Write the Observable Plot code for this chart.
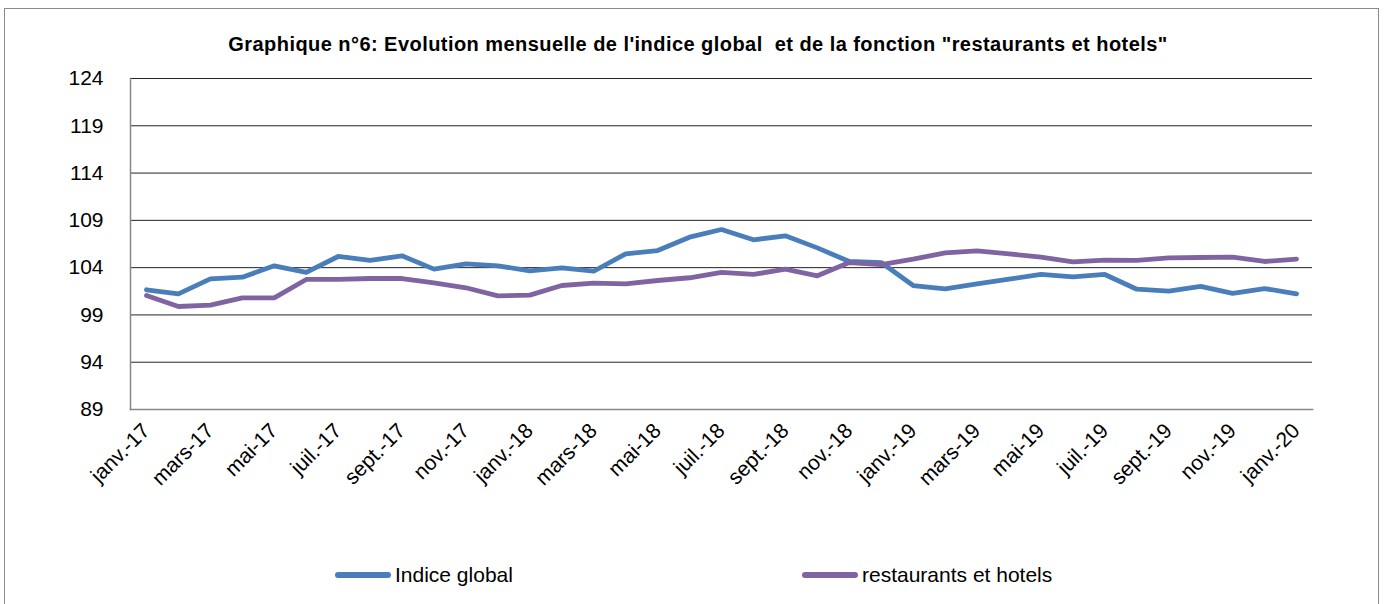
<!DOCTYPE html>
<html>
<head>
<meta charset="utf-8">
<script src="https://cdn.jsdelivr.net/npm/d3@7"></script>
<script src="https://cdn.jsdelivr.net/npm/@observablehq/plot@0.6"></script>
<style>
  html, body { margin: 0; padding: 0; background: #fff; }
  #wrap { position: relative; width: 1385px; height: 604px; overflow: hidden; font-family: "Liberation Sans", Arial, sans-serif; }
  #frame { position: absolute; left: 4px; top: 8px; width: 1375px; height: 620px; border: 1px solid #8a8a8a; box-sizing: border-box; }
  #title { position: absolute; left: 0; width: 1396px; top: 33px; text-align: center; font-weight: bold; font-size: 20px; letter-spacing: 0.45px; color: #000; white-space: pre; }
  #chart { position: absolute; left: 0; top: 0; }
  .leg { position: absolute; top: 563px; font-size: 21px; color: #000; display: flex; align-items: center; }
  .leg .sw { width: 56px; height: 6px; border-radius: 3px; margin-right: 4px; }
</style>
</head>
<body>
<div id="wrap">
  <div id="frame"></div>
  <div id="chart"></div>
  <div id="title">Graphique n°6: Evolution mensuelle de l'indice global  et de la fonction "restaurants et hotels"</div>
  <div class="leg" style="left:335px"><div class="sw" style="background:#4A7EBB"></div>Indice global</div>
  <div class="leg" style="left:802px"><div class="sw" style="background:#8064A2"></div>restaurants et hotels</div>
</div>
<script>
const months = ["janv.-17","févr.-17","mars-17","avr.-17","mai-17","juin-17","juil.-17","août-17","sept.-17","oct.-17","nov.-17","déc.-17",
  "janv.-18","févr.-18","mars-18","avr.-18","mai-18","juin-18","juil.-18","août-18","sept.-18","oct.-18","nov.-18","déc.-18",
  "janv.-19","févr.-19","mars-19","avr.-19","mai-19","juin-19","juil.-19","août-19","sept.-19","oct.-19","nov.-19","déc.-19",
  "janv.-20"];
const indiceGlobal = [101.66,101.23,102.82,102.99,104.19,103.49,105.18,104.76,105.25,103.84,104.40,104.19,
  103.66,103.98,103.62,105.46,105.81,107.22,108.03,106.94,107.36,106.09,104.65,104.54,
  102.11,101.76,102.29,102.78,103.28,103.03,103.28,101.72,101.51,102.01,101.27,101.79,101.23];
const restaurantsHotels = [101.05,99.89,100.03,100.81,100.81,102.75,102.75,102.85,102.85,102.39,101.87,101.02,
  101.09,102.11,102.36,102.29,102.64,102.93,103.49,103.28,103.84,103.14,104.54,104.33,
  104.90,105.57,105.78,105.46,105.11,104.62,104.79,104.76,105.04,105.07,105.11,104.65,104.90];
const yTicks = [89,94,99,104,109,114,119,124];
const seriesNames = ["Indice global","restaurants et hotels"];
const seriesColors = ["#4A7EBB","#8064A2"];

const data = [];
months.forEach((m, i) => {
  data.push({month: m, value: indiceGlobal[i], series: seriesNames[0]});
  data.push({month: m, value: restaurantsHotels[i], series: seriesNames[1]});
});
const xTicks = months.filter((m, i) => i % 2 === 0);

const chart = Plot.plot({
  width: 1385,
  height: 490,
  marginTop: 78,
  marginBottom: 81,
  marginLeft: 130,
  marginRight: 73,
  style: {fontFamily: "'Liberation Sans', Arial, sans-serif", fontSize: "21px", color: "#000", background: "transparent", overflow: "visible"},
  x: {type: "point", domain: months, padding: 0.5, label: null, axis: null},
  y: {domain: [89, 124], label: null},
  color: {domain: seriesNames, range: seriesColors},
  marks: [
    Plot.gridY(yTicks, {stroke: "#222", strokeOpacity: 1, strokeWidth: 1}),
    Plot.frame({anchor: "bottom", stroke: "#888", strokeWidth: 1.5}),
    Plot.frame({anchor: "left", stroke: "#888", strokeWidth: 1.5}),
    Plot.axisY(yTicks, {tickSize: 0, tickPadding: 27, fontSize: 21, label: null}),
    Plot.text(xTicks, {x: d => d, frameAnchor: "bottom", rotate: -45, textAnchor: "end", lineAnchor: "top", dx: -6, dy: 12, fontSize: 21, fill: "#000"}),
    Plot.line(data, {x: "month", y: "value", stroke: "series", z: "series", strokeWidth: 4.8, strokeLinejoin: "round", strokeLinecap: "round"})
  ]
});
document.getElementById("chart").appendChild(chart);
</script>
</body>
</html>
